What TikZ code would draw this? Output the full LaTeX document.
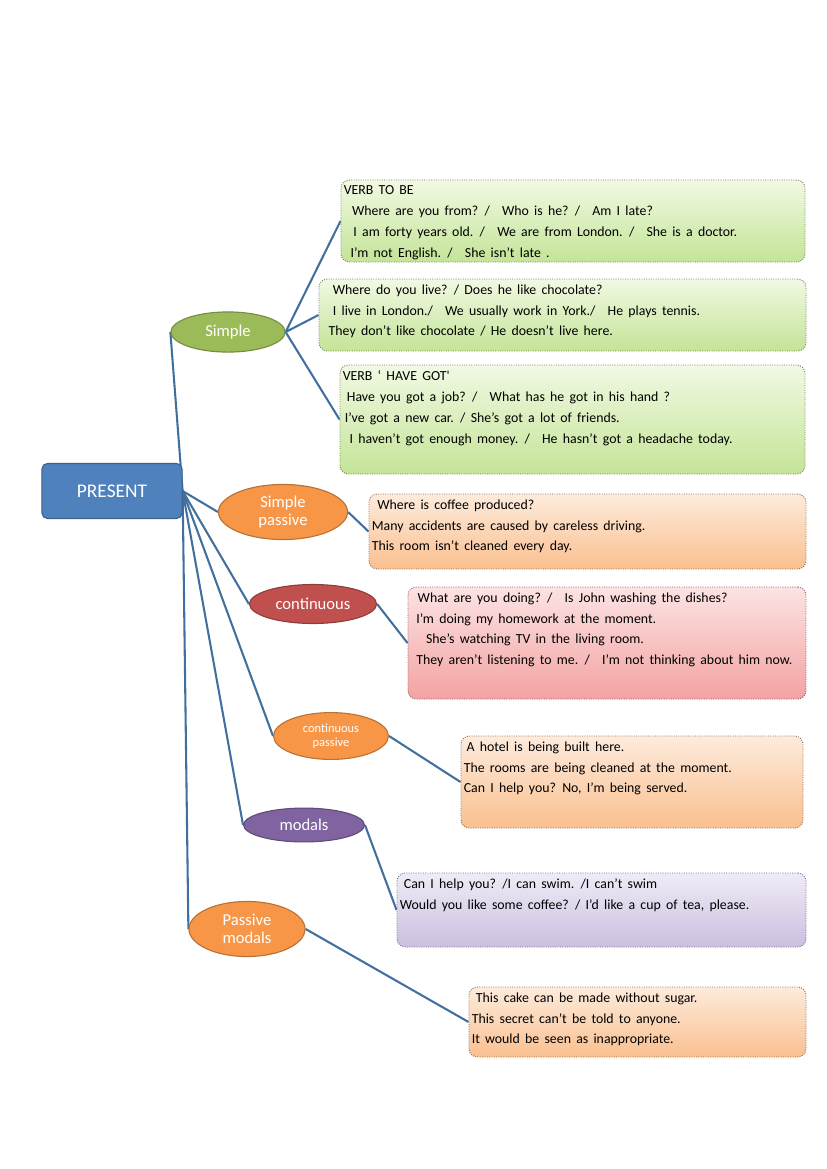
\documentclass[tikz,border=0pt]{standalone}
\usepackage{fontspec}
\setmainfont{Carlito}
\usepackage{tikz}
\usetikzlibrary{positioning,fit,backgrounds,shapes.geometric}
\definecolor{tnblue}{HTML}{4F81BD}
\definecolor{tngreen}{HTML}{9BBB59}
\definecolor{tnorange}{HTML}{F79646}
\definecolor{tnred}{HTML}{C0504D}
\definecolor{tnpurple}{HTML}{8064A2}
\definecolor{tnlink}{HTML}{41709F}
\definecolor{gtop}{HTML}{F1F9E3}
\definecolor{gbot}{HTML}{C4E497}
\definecolor{otop}{HTML}{FDEBDC}
\definecolor{obot}{HTML}{FAC08F}
\definecolor{rtop}{HTML}{FCE3E3}
\definecolor{rbot}{HTML}{F3A2A2}
\definecolor{ptop}{HTML}{EFEBF6}
\definecolor{pbot}{HTML}{CCBFE0}

\begin{document}
\begin{tikzpicture}[x=0.0254cm,y=-0.0254cm,
  topic/.style={ellipse,draw=#1!75!black,fill=#1,line width=0.8pt,inner sep=0pt,
    text=white,align=center,font=\fontsize{12}{13}\selectfont},
  card/.style 2 args={draw=#2!60!black,densely dotted,line width=0.7pt,
    rounded corners=6pt,top color=#1,bottom color=#2,inner sep=0pt},
  txt/.style={anchor=north west,inner sep=0pt,align=left,
    font={\fontsize{10}{15}\selectfont\spaceskip=0.38em plus 0.1em}},
  link/.style={draw=tnlink,line width=1.5pt}]
\useasboundingbox (0,0) rectangle (826,1169);

% topics
\node[draw=tnblue!75!black,fill=tnblue,rounded corners=4pt,line width=0.8pt,
      minimum width=3.56cm,minimum height=1.40cm,text=white,
      font=\fontsize{14}{15}\selectfont] (present) at (112,491) {PRESENT};
\node[topic=tngreen,minimum width=2.90cm,minimum height=1.02cm] (simple) at (228,332) {Simple};
\node[topic=tnorange,minimum width=3.28cm,minimum height=1.40cm] (spassive) at (283,512) {Simple\\passive};
\node[topic=tnred,minimum width=3.23cm,minimum height=0.99cm] (cont) at (313,604) {continuous};
\node[topic=tnorange,minimum width=2.92cm,minimum height=1.19cm,
      font=\fontsize{9}{10.5}\selectfont] (cpassive) at (331,736) {continuous\\passive};
\node[topic=tnpurple,minimum width=3.07cm,minimum height=0.86cm] (modals) at (304,825) {modals};
\node[topic=tnorange,minimum width=2.95cm,minimum height=1.40cm] (pmodals) at (247,929) {Passive\\modals};

% example cards
\node[card={gtop}{gbot},fit={(341,180) (805,262)}] (tobe) {};
\node[txt] (tobetxt) at ([shift={(3,6)}]tobe.north west) {VERB TO BE\\
  \hspace*{6pt}Where are you from? /\enspace\ Who is he? /\enspace\ Am I late?\\
  \hspace*{7pt}I am forty years old. /\enspace\ We are from London. /\enspace\ She is a doctor.\\
  \hspace*{5pt}I’m not English. /\enspace\ She isn’t late .};

\node[card={gtop}{gbot},fit={(319,279) (806,351)}] (dolive) {};
\node[txt] (dolivetxt) at ([shift={(3,6)}]dolive.north west) {%
  \hspace*{8pt}Where do you live? / Does he like chocolate?\\
  \hspace*{8pt}I live in London./\enspace\ We usually work in York./\enspace\ He plays tennis.\\
  \hspace*{5pt}They don’t like chocolate /\ He doesn’t live here.};

\node[card={gtop}{gbot},fit={(340,365) (805,474)}] (havegot) {};
\node[txt] (havegottxt) at ([shift={(3,6)}]havegot.north west) {VERB ‘ HAVE GOT\textquotesingle\\
  \hspace*{3pt}Have you got a job? /\enspace\ What has he got in his hand ?\\
  \hspace*{1.5pt}I’ve got a new car. / She’s got a lot of friends.\\
  \hspace*{5pt}I haven’t got enough money. /\enspace\ He hasn’t got a headache today.};

\node[card={otop}{obot},fit={(369,494) (806,569)}] (spcard) {};
\node[txt] (spcardtxt) at ([shift={(3,6)}]spcard.north west) {%
  \hspace*{4pt}Where is coffee produced?\\
  Many accidents are caused by careless driving.\\
  This room isn’t cleaned every day.};

\node[card={rtop}{rbot},fit={(408,587) (806,699)}] (contcard) {};
\node[txt] (contcardtxt) at ([shift={(3,6)}]contcard.north west) {%
  \hspace*{5pt}What are you doing? /\enspace\ Is John washing the dishes?\\
  \hspace*{4pt}I’m doing my homework at the moment.\\
  \hspace*{11pt}She’s watching TV in the living room.\\
  \hspace*{4pt}They aren’t listening to me. /\enspace\ I’m not thinking about him now.};

\node[card={otop}{obot},fit={(461,736) (803,828)}] (cpcard) {};
\node[txt] (cpcardtxt) at ([shift={(3,6)}]cpcard.north west) {%
  \hspace*{2pt}A hotel is being built here.\\
  The rooms are being cleaned at the moment.\\
  Can I help you? No, I’m being served.};

\node[card={ptop}{pbot},fit={(397,873) (806,947)}] (modcard) {};
\node[txt] (modcardtxt) at ([shift={(3,6)}]modcard.north west) {%
  \hspace*{3pt}Can I help you? /I can swim. /I can’t swim\\
  Would you like some coffee? / I’d like a cup of tea, please.};

\node[card={otop}{obot},fit={(469,987) (806,1057)}] (pmcard) {};
\node[txt] (pmcardtxt) at ([shift={(3,6)}]pmcard.north west) {%
  \hspace*{3pt}This cake can be made without sugar.\\
  This secret can’t be told to anyone.\\
  It would be seen as inappropriate.};

% connectors
\begin{scope}[on background layer]
\draw[link] (present.east) -- (simple.west);
\draw[link] (present.east) -- (spassive.west);
\draw[link] (present.east) -- (cont.west);
\draw[link] (present.east) -- (cpassive.west);
\draw[link] (present.east) -- (modals.west);
\draw[link] (present.east) -- (pmodals.west);
\draw[link] (simple.east) -- (tobe.west);
\draw[link] (simple.east) -- (dolive.west);
\draw[link] (simple.east) -- (havegot.west);
\draw[link] (spassive.east) -- (spcard.west);
\draw[link] (cont.east) -- (contcard.west);
\draw[link] (cpassive.east) -- (cpcard.west);
\draw[link] (modals.east) -- (modcard.west);
\draw[link] (pmodals.east) -- (pmcard.west);
\end{scope}
\end{tikzpicture}
\end{document}
